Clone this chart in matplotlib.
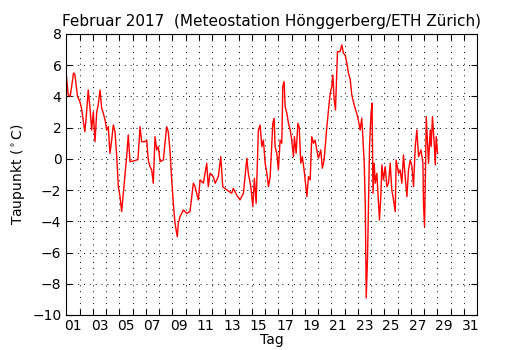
import matplotlib
matplotlib.use('Agg')
import matplotlib.pyplot as plt
import numpy as np
from matplotlib.ticker import FixedLocator, NullFormatter

# time in days (1.0 = 1 Feb 00:00) and dew point in deg C
tag = [1.00, 1.15, 1.30, 1.40, 1.55, 1.65, 1.75, 1.85, 2.03, 2.15, 2.30, 2.40, 2.50,
       2.66, 2.79, 2.92, 3.04, 3.17, 3.30, 3.42, 3.55, 3.67, 3.79, 3.93, 4.05, 4.17,
       4.30, 4.43, 4.55, 4.68, 4.81, 4.93, 5.06, 5.18, 5.31, 5.43, 5.56, 5.68, 5.81,
       6.00, 6.20, 6.41, 6.57, 6.69, 6.94, 7.07, 7.19, 7.32, 7.45, 7.57, 7.70, 7.83,
       7.95, 8.08, 8.33, 8.45, 8.58, 8.70, 8.83, 8.96, 9.08, 9.21, 9.38, 9.46, 9.59,
       9.84, 10.09, 10.34, 10.59, 10.72, 10.97, 11.10, 11.35, 11.60, 11.72, 11.85,
       12.10, 12.23, 12.48, 12.66, 12.81, 13.11, 13.49, 13.61, 13.86, 14.11, 14.37,
       14.63, 14.74, 14.93, 15.08, 15.20, 15.33, 15.50, 15.63, 15.76, 15.88, 16.01,
       16.14, 16.26, 16.39, 16.59, 16.69, 16.76, 16.89, 17.01, 17.14, 17.27, 17.34,
       17.44, 17.52, 17.65, 17.77, 17.90, 18.02, 18.15, 18.22, 18.35, 18.48, 18.58,
       18.70, 18.82, 18.98, 19.16, 19.28, 19.41, 19.53, 19.66, 19.78, 19.91, 20.03,
       20.21, 20.33, 20.46, 20.67, 20.79, 20.92, 21.04, 21.12, 21.22, 21.32, 21.47,
       21.67, 21.80, 21.92, 22.05, 22.18, 22.30, 22.43, 22.55, 22.67, 22.80, 22.93,
       23.05, 23.18, 23.30, 23.38, 23.49, 23.57, 23.64, 23.74, 23.89, 24.00, 24.08,
       24.15, 24.24, 24.32, 24.44, 24.57, 24.64, 24.75, 24.82, 24.94, 25.07, 25.20,
       25.32, 25.45, 25.57, 25.70, 25.83, 25.90, 26.08, 26.20, 26.33, 26.45, 26.58,
       26.71, 26.83, 26.96, 27.09, 27.21, 27.34, 27.46, 27.59, 27.77, 27.92, 27.96,
       28.04, 28.11, 28.17, 28.27, 28.34, 28.47, 28.54, 28.64, 28.77, 28.85, 28.92,
       29.02]
taupunkt = [5.4, 4.1, 4.0, 4.6, 5.5, 5.4, 4.7, 4.0, 3.66, 3.26, 2.36, 1.74, 2.6,
            4.41, 3.26, 1.85, 3.0, 1.1, 3.0, 3.5, 4.41, 3.26, 2.94, 2.5, 1.85, 2.06,
            0.36, 1.2, 2.17, 1.74, 0.14, -1.78, -2.42, -3.38, -2.2, -1.14, 0.14, 1.53, -0.18,
            -0.15, -0.1, -0.05, 2.06, 1.1, 1.1, 1.2, -0.07, -0.5, -0.71, -1.56, 1.42, 0.57,
            0.78, -0.18, -0.07, 1.0, 2.06, 1.74, 0.5, -1.35, -2.85, -4.13, -4.99, -4.13, -3.7,
            -3.27, -3.49, -3.38, -1.56, -1.78, -2.63, -1.35, -1.56, -0.28, -1.78, -0.92,
            -1.14, -1.56, -1.14, 0.14, -1.78, -1.99, -2.2, -1.89, -2.31, -2.63, -2.2,
            0.04, -0.92, -1.78, -3.06, -1.24, -2.85, 1.85, 2.17, 0.78, 1.2, -0.28,
            -0.92, -1.78, -1.14, 2.28, 2.6, 0.78, 0.36, -0.71, 1.2, 1.0, 4.62,
            4.95, 3.34, 2.92, 2.28, 1.85, 1.2, 0.14, 1.42, 0.36, 2.28, 2.06,
            -0.28, 0.14, -0.92, -2.42, -1.14, -1.35, 1.42, 1.0, 1.2, 0.57, 0.04,
            0.57, -0.6, -0.07, 2.06, 3.13, 4.2, 4.62, 5.37, 3.77, 3.13, 6.87,
            6.87, 7.3, 6.76, 6.65, 6.12, 5.48, 5.1, 4.1, 3.66, 3.24, 2.9,
            2.45, 1.85, 2.6, 1.5, -0.3, -3.06, -8.9, -6.27, 0.78, 2.92, 3.56,
            -2.2, -0.28, -1.56, -0.92, -2.85, -3.92, -2.2, -0.39, -1.35, -0.5, -1.78,
            -1.56, -0.28, -1.99, -2.63, -3.38, -0.07, -0.92, -0.71, -1.56, 0.25, -1.14,
            -2.42, -0.71, -0.07, -0.5, -1.78, 0.78, 1.85, 0.14, 0.57, -0.28, -2.85,
            -4.34, -0.92, 2.7, 1.0, -0.28, 1.85, 0.78, 2.7, 1.0, -0.39, 1.42,
            0.36]

day_labels = ['%02d' % d for d in range(1, 32, 2)]

fig = plt.figure(figsize=(5.3, 3.5), dpi=100)
ax = fig.add_axes([0.125, 0.1, 0.775, 0.803])
ax.plot(tag, taupunkt, color='red', lw=1.0)

ax.set_xlim(1, 32)
ax.set_ylim(-10, 8)
ax.set_yticks(np.arange(-10, 9, 2))

# major ticks at day boundaries, labels centred on the days
ax.xaxis.set_major_locator(FixedLocator(range(2, 32)))
ax.xaxis.set_major_formatter(NullFormatter())
ax.xaxis.set_minor_locator(FixedLocator([d + 0.5 for d in range(1, 32, 2)]))
ax.set_xticklabels(day_labels, minor=True)
ax.tick_params(axis='x', which='minor', length=0, labelsize=10, pad=3)
ax.tick_params(axis='both', which='major', direction='in', top=True, right=True,
               length=4, labelsize=10)

ax.grid(True, which='major', color='k', linestyle=(0, (1, 5)), linewidth=0.7)

ax.set_xlabel('Tag', fontsize=10, labelpad=0)
ax.set_ylabel('Taupunkt ($^\\circ$C)', fontsize=10)
ax.set_title('Februar 2017  (Meteostation Hönggerberg/ETH Zürich)', fontsize=11)

fig.savefig('out.png', dpi=100)
